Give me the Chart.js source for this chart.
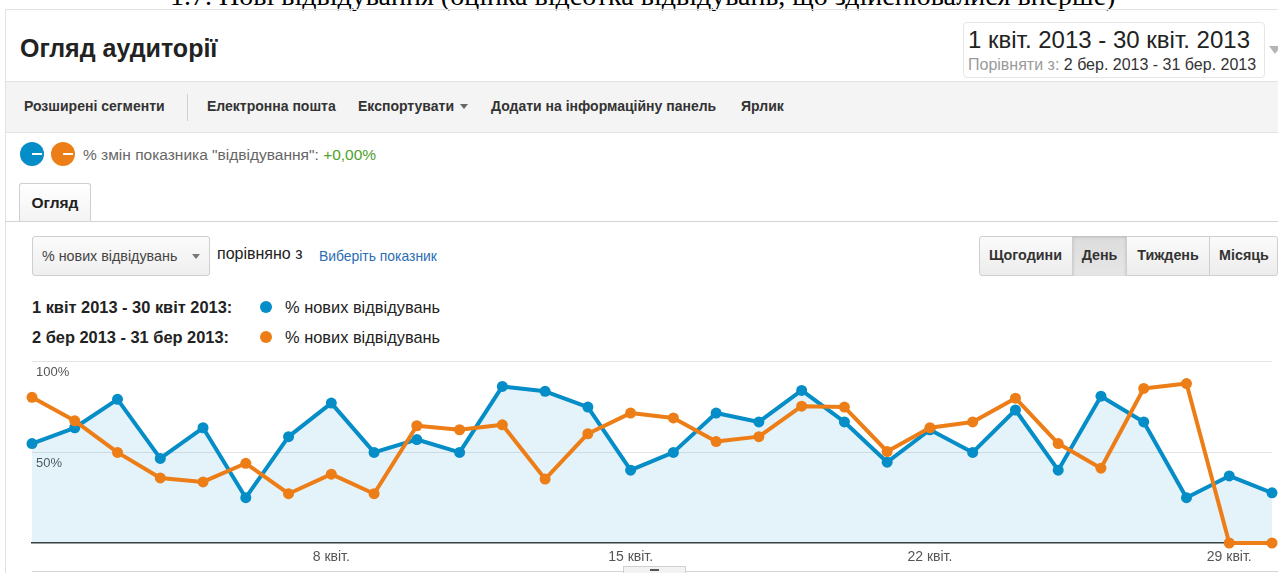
<!DOCTYPE html>
<html lang="uk">
<head>
<meta charset="utf-8">
<title>Огляд аудиторії</title>
<script src="https://cdn.jsdelivr.net/npm/chart.js@4.4.1/dist/chart.umd.min.js"></script>
<style>
  html, body { margin: 0; padding: 0; background: #fff; }
  body { width: 1278px; height: 573px; overflow: hidden; font-family: "Liberation Sans", Arial, sans-serif; }
  #root { position: relative; width: 1278px; height: 573px; overflow: hidden; }
  .abs { position: absolute; white-space: nowrap; }
  .caption { font-family: "Liberation Serif", "Times New Roman", serif; font-size: 28px; line-height: 28px; color: #000; top: -18px; left: 170px; }
  .hline { position: absolute; height: 1px; background: #e2e2e2; }
  .title { left: 20px; top: 34px; font-size: 25px; line-height: 28px; font-weight: bold; color: #222; }
  .datebox { left: 963px; top: 22px; width: 302px; height: 56px; border: 1px solid #e6e6e6; border-radius: 4px; background: #fff; box-sizing: border-box; }
  .datemain { left: 968px; top: 25px; font-size: 24px; line-height: 30px; color: #222; }
  .datesub { left: 968px; top: 56px; font-size: 16px; line-height: 18px; color: #333; }
  .datesub .lbl { color: #9a9a9a; }
  .toolbar { left: 6px; right: 0; top: 81px; height: 50px; background: #f4f4f4; border-top: 1px solid #e2e2e2; border-bottom: 1px solid #e2e2e2; }
  .tb { top: 97px; font-size: 14px; line-height: 18px; font-weight: bold; color: #333; }
  .tri { position: absolute; width: 0; height: 0; border-left: 4px solid transparent; border-right: 4px solid transparent; border-top: 5px solid #666; }
  .circle { position: absolute; width: 24px; height: 24px; border-radius: 50%; }
  .circle::after { content: ""; position: absolute; left: 12px; top: 11px; width: 10px; height: 2px; background: #fff; }
  .change { left: 83px; top: 145px; font-size: 15.5px; line-height: 20px; color: #666; }
  .change .pos { color: #50a02c; }
  .tab { left: 19px; top: 183px; width: 72px; height: 39px; border: 1px solid #cfcfcf; border-bottom: none; border-radius: 3px 3px 0 0; background: linear-gradient(#ffffff, #f3f3f3); box-sizing: border-box; font-size: 15.5px; font-weight: bold; color: #222; text-align: center; line-height: 38px; }
  .dropdown { left: 32px; top: 236px; width: 178px; height: 40px; border: 1px solid #cfcfcf; border-radius: 3px; background: linear-gradient(#fbfbfb, #efefef); box-sizing: border-box; }
  .ddtext { left: 42px; top: 247px; font-size: 14.3px; line-height: 18px; color: #444; }
  .cmp { left: 217px; top: 244px; font-size: 16px; line-height: 20px; color: #222; }
  .pick { left: 319px; top: 247px; font-size: 13.9px; line-height: 18px; color: #2b6cb5; }
  .btngroup { left: 979px; top: 236px; width: 299px; height: 40px; border: 1px solid #cfcfcf; border-radius: 3px; background: linear-gradient(#fbfbfb, #ececec); box-sizing: border-box; }
  .btn { position: absolute; top: 236px; height: 40px; box-sizing: border-box; font-size: 14.3px; font-weight: bold; color: #333; text-align: center; line-height: 39px; }
  .btn.sep { border-left: 1px solid #cfcfcf; }
  .btn.active { background: linear-gradient(#dcdcdc, #e6e6e6); box-shadow: inset 0 1px 3px rgba(0,0,0,0.18); }
  .leg { font-size: 16.4px; line-height: 20px; color: #222; }
  .leg b { font-weight: bold; }
  .dot { position: absolute; width: 12px; height: 12px; border-radius: 50%; }
  #chartWrap { position: absolute; left: 0; top: 350px; width: 1278px; height: 223px; }
</style>
</head>
<body>
<div id="root">
  <div class="abs caption">1.7. Нові відвідування (оцінка відсотка відвідувань, що здійснювалися вперше)</div>
  <div class="hline" style="left:5px; right:0; top:9px;"></div>
  <div class="abs" style="left:5px; top:9px; width:1px; height:564px; background:#e2e2e2;"></div>

  <div class="abs title">Огляд аудиторії</div>
  <div class="abs datebox"></div>
  <div class="abs datemain">1 квіт. 2013 - 30 квіт. 2013</div>
  <div class="abs datesub"><span class="lbl">Порівняти з:</span> 2 бер. 2013 - 31 бер. 2013</div>
  <div class="tri" style="left:1269px; top:46px; border-left-width:6px; border-right-width:6px; border-top:8px solid #b5b5b5;"></div>

  <div class="abs toolbar"></div>
  <div class="abs tb" style="left:24px;">Розширені сегменти</div>
  <div class="abs" style="left:187px; top:94px; width:1px; height:27px; background:#d0d0d0;"></div>
  <div class="abs tb" style="left:207px;">Електронна пошта</div>
  <div class="abs tb" style="left:358px;">Експортувати</div>
  <div class="tri" style="left:460px; top:104px;"></div>
  <div class="abs tb" style="left:491px;">Додати на інформаційну панель</div>
  <div class="abs tb" style="left:741px;">Ярлик</div>

  <div class="circle" style="left:20px; top:142px; background:#058dc7;"></div>
  <div class="circle" style="left:51px; top:142px; background:#ed7e17;"></div>
  <div class="abs change">% змін показника "відвідування": <span class="pos">+0,00%</span></div>

  <div class="abs tab">Огляд</div>
  <div class="hline" style="left:5px; right:0; top:221px; background:#d4d4d4;"></div>

  <div class="abs dropdown"></div>
  <div class="abs ddtext">% нових відвідувань</div>
  <div class="tri" style="left:192px; top:254px; border-top-color:#777;"></div>
  <div class="abs cmp">порівняно з</div>
  <div class="abs pick">Виберіть показник</div>

  <div class="abs btngroup"></div>
  <div class="btn" style="left:979px; width:93px;">Щогодини</div>
  <div class="btn sep active" style="left:1072px; width:54px;">День</div>
  <div class="btn sep" style="left:1126px; width:83px;">Тиждень</div>
  <div class="btn sep" style="left:1209px; width:69px;">Місяць</div>

  <div class="abs leg" style="left:32px; top:297px;"><b>1 квіт 2013 - 30 квіт 2013:</b></div>
  <div class="dot" style="left:260px; top:301px; background:#058dc7;"></div>
  <div class="abs leg" style="left:285px; top:297px;">% нових відвідувань</div>
  <div class="abs leg" style="left:32px; top:327px;"><b>2 бер 2013 - 31 бер 2013:</b></div>
  <div class="dot" style="left:260px; top:331px; background:#ed7e17;"></div>
  <div class="abs leg" style="left:285px; top:327px;">% нових відвідувань</div>

  <div id="chartWrap"><canvas id="chart"></canvas></div>

  <div class="hline" style="left:32px; right:0; top:571px; background:#d4d4d4;"></div>
  <div class="abs" style="left:623px; top:566px; width:63px; height:8px; border:1px solid #d0d0d0; border-bottom:none; background:#f2f2f2; box-sizing:border-box;"></div>
  <div class="abs" style="left:650px; top:569px; width:9px; height:2px; background:#555;"></div>
</div>

<script>
// ---- data ----
const categories = [
  '1 квіт.', '2 квіт.', '3 квіт.', '4 квіт.', '5 квіт.', '6 квіт.', '7 квіт.', '8 квіт.', '9 квіт.', '10 квіт.',
  '11 квіт.', '12 квіт.', '13 квіт.', '14 квіт.', '15 квіт.', '16 квіт.', '17 квіт.', '18 квіт.', '19 квіт.', '20 квіт.',
  '21 квіт.', '22 квіт.', '23 квіт.', '24 квіт.', '25 квіт.', '26 квіт.', '27 квіт.', '28 квіт.', '29 квіт.', '30 квіт.'
];
// % нових відвідувань, 1 квіт 2013 - 30 квіт 2013
const aprilValues = [
  54.9, 63.6, 79.3, 46.7, 63.6, 25.0, 58.7, 77.2, 50.0, 57.1,
  50.0, 86.4, 83.7, 75.0, 40.2, 50.0, 71.7, 66.8, 84.2, 66.8,
  44.6, 62.5, 50.0, 73.4, 40.2, 81.0, 66.8, 25.0, 37.0, 27.7
];
// % нових відвідувань, 2 бер 2013 - 31 бер 2013
const marchValues = [
  80.4, 67.4, 50.0, 35.9, 33.7, 44.0, 27.2, 38.0, 27.2, 64.7,
  62.5, 65.2, 35.3, 60.3, 71.7, 69.0, 56.0, 58.7, 75.5, 75.0,
  50.5, 63.6, 66.8, 79.9, 54.9, 41.3, 85.3, 88.0, 0.0, 0.0
];
const xTickLabels = ['8 квіт.', '15 квіт.', '22 квіт.', '29 квіт.'];
const yTickValues = [50, 100];
const seriesNames = ['1 квіт 2013 - 30 квіт 2013', '2 бер 2013 - 31 бер 2013'];

// ---- chart ----
Chart.defaults.font.family = '"Liberation Sans", Arial, sans-serif';

new Chart(document.getElementById('chart'), {
  type: 'line',
  data: {
    labels: categories,
    datasets: [
      {
        label: seriesNames[0],
        data: aprilValues,
        borderColor: '#058dc7',
        backgroundColor: 'rgba(5,141,199,0.11)',
        fill: 'origin',
        borderWidth: 4,
        borderJoinStyle: 'round',
        pointRadius: 5.5,
        pointBorderWidth: 0,
        pointBackgroundColor: '#058dc7',
        tension: 0,
        clip: false,
        order: 2
      },
      {
        label: seriesNames[1],
        data: marchValues,
        borderColor: '#ed7e17',
        backgroundColor: '#ed7e17',
        fill: false,
        borderWidth: 4,
        borderJoinStyle: 'round',
        pointRadius: 5.5,
        pointBorderWidth: 0,
        pointBackgroundColor: '#ed7e17',
        tension: 0,
        clip: false,
        order: 1
      }
    ]
  },
  options: {
    responsive: true,
    maintainAspectRatio: false,
    animation: false,
    layout: { padding: { left: 32, right: 3, top: 8, bottom: 0 } },
    plugins: { legend: { display: false }, tooltip: { enabled: false } },
    scales: {
      x: {
        grid: { display: false, drawTicks: false },
        border: { display: true, color: '#3a3a3a', width: 1.5 },
        ticks: {
          autoSkip: false,
          maxRotation: 0,
          minRotation: 0,
          padding: 6,
          color: '#555',
          font: { size: 14 },
          callback: function (value, index) {
            const lbl = categories[index];
            return xTickLabels.includes(lbl) ? lbl : '';
          }
        },
        afterFit: function (axis) { axis.height = 30; }
      },
      y: {
        min: 0,
        max: 100,
        border: { display: false },
        grid: {
          drawTicks: false,
          color: function (ctx) { return yTickValues.includes(ctx.tick.value) ? '#e4e4e4' : 'rgba(0,0,0,0)'; }
        },
        ticks: {
          stepSize: 50,
          mirror: true,
          padding: 4,
          labelOffset: 11,
          color: '#555',
          font: { size: 13 },
          callback: function (value) { return yTickValues.includes(value) ? value + '%' : ''; }
        },
        afterFit: function (axis) { axis.width = 0; }
      }
    }
  }
});
</script>
</body>
</html>
